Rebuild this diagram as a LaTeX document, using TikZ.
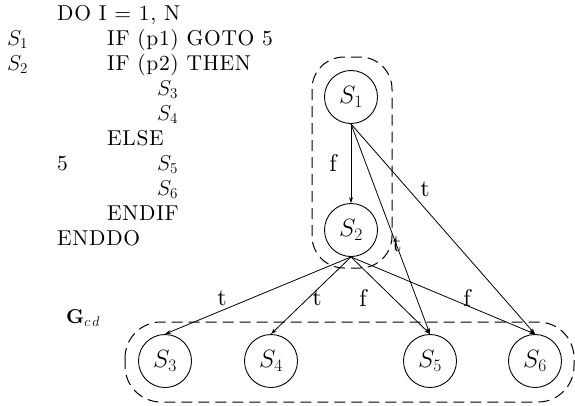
\RequirePackage{fix-cm}
\documentclass[tikz,border=0pt]{standalone}
\usepackage{fontspec}
\usetikzlibrary{arrows.meta}
% one design size for every text, scaled freely
\setmainfont{lmroman10-regular.otf}[BoldFont=lmroman10-bold.otf]
\newfontfamily\listingfont{lmroman10-regular.otf}[LetterSpace=3]
\begin{document}
\begin{tikzpicture}[x=1pt,y=-1pt,
  stmt/.style={circle,draw,line width=0.9pt,minimum size=53pt,inner sep=0pt,
    font=\fontsize{25}{30}\selectfont},
  code/.style={anchor=base west,inner sep=0pt,font=\fontsize{21.5}{26}\selectfont\listingfont},
  flow/.style={line width=0.8pt,-{Stealth[length=6pt,width=4pt]}},
  elabel/.style={inner sep=0pt,font=\fontsize{24}{28}\selectfont},
  region/.style={dash pattern=on 11pt off 6pt,line width=1pt}]
\useasboundingbox (0,0) rectangle (575,405);

% program listing
\node[code] (l0)  at (57,20)    {DO I = 1, N};
\node[code] (n1)  at (7,45)     {$S_1$};
\node[code] (l1)  at (107,45)   {IF (p1) GOTO 5};
\node[code] (n2)  at (7,70)     {$S_2$};
\node[code] (l2)  at (107,70)   {IF (p2) THEN};
\node[code] (l3)  at (157,95)   {$S_3$};
\node[code] (l4)  at (157,120)  {$S_4$};
\node[code] (l5)  at (107,145)  {ELSE};
\node[code] (n5)  at (57,170)   {5};
\node[code] (l6)  at (157,170)  {$S_5$};
\node[code] (l7)  at (157,195)  {$S_6$};
\node[code] (l8)  at (107,220)  {ENDIF};
\node[code] (l9)  at (57,245)   {ENDDO};

% control regions
\draw[region,rounded corners=32pt] (312,57) rectangle (392,268);
\draw[region,rounded corners=36pt] (125,322) rectangle (574,402);
\node[anchor=base west,inner sep=0pt,font=\fontsize{20}{24}\selectfont] (gcd) at (66,323) {$\mathbf{G}_{c\,d}$};

% statements
\node[stmt] (s1) at (351,97)  {$S_1$};
\node[stmt] (s2) at (351,230) {$S_2$};
\node[stmt] (s3) at (165,361) {$S_3$};
\node[stmt] (s4) at (271,361) {$S_4$};
\node[stmt] (s5) at (430,361) {$S_5$};
\node[stmt] (s6) at (535,361) {$S_6$};

% control flow
\draw[flow] (s1.south) -- (s2.north);
\draw[flow] (s1.south) -- (s5.north);
\draw[flow] (s1.south) -- (s6.north);
\draw[flow] (s2.south) -- (s3.north);
\draw[flow] (s2.south) -- (s4.north);
\draw[flow] (s2.south) -- (s5.north);
\draw[flow] (s2.south) -- (s6.north);

% branch labels
\node[elabel] (e12) at (333,163) {f};
\node[elabel] (e16) at (425,189) {t};
\node[elabel] (e15) at (397,244) {t};
\node[elabel] (e23) at (222,298) {t};
\node[elabel] (e24) at (317,298) {t};
\node[elabel] (e25) at (363,298) {f};
\node[elabel] (e26) at (467,298) {f};
\end{tikzpicture}
\end{document}
